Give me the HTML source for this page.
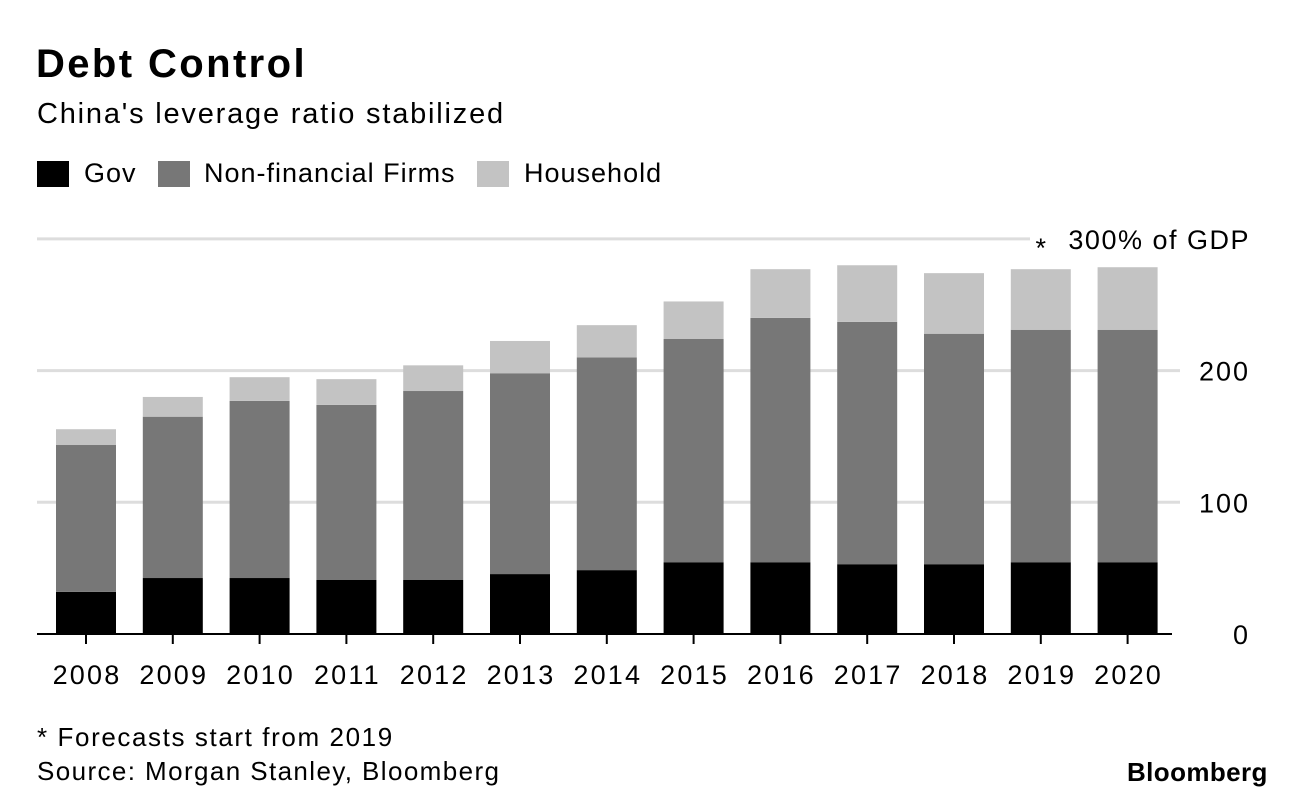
<!DOCTYPE html>
<html><head><meta charset="utf-8"><style>
body{margin:0;background:#fff;font-family:"Liberation Sans",Arial,sans-serif;}
#wrap{position:relative;width:1296px;height:802px;overflow:hidden;}
.t{position:absolute;white-space:nowrap;color:#000;}
</style></head><body>
<div id="wrap">
<div class="t" style="left:36px;top:42px;font-size:40px;font-weight:bold;letter-spacing:2.4px;">Debt Control</div>
<div class="t" style="left:37px;top:98px;font-size:29px;letter-spacing:1.8px;">China's leverage ratio stabilized</div>
<div>
<div class="t" style="left:37px;top:161px;width:32px;height:26px;background:#000;"></div>
<div class="t" style="left:84px;top:158px;font-size:27px;letter-spacing:1px;">Gov</div>
<div class="t" style="left:158px;top:161px;width:32px;height:26px;background:#777;"></div>
<div class="t" style="left:204px;top:158px;font-size:27px;letter-spacing:1px;">Non-financial Firms</div>
<div class="t" style="left:477px;top:161px;width:32px;height:26px;background:#c3c3c3;"></div>
<div class="t" style="left:524px;top:158px;font-size:27px;letter-spacing:1px;">Household</div>
</div>
<svg id="chart" width="1296" height="802" style="position:absolute;left:0;top:0;"></svg>
<div class="t" style="left:37px;top:722px;font-size:26px;letter-spacing:1.6px;">* Forecasts start from 2019</div>
<div class="t" style="left:37px;top:756px;font-size:26px;letter-spacing:1.4px;">Source: Morgan Stanley, Bloomberg</div>
<div class="t" style="left:1127px;top:757px;font-size:26px;font-weight:bold;letter-spacing:0.4px;">Bloomberg</div>
</div>
<script>
const years=["2008","2009","2010","2011","2012","2013","2014","2015","2016","2017","2018","2019","2020"];
const gov=[32,42.5,42.5,41,41,45.5,48.5,54.5,54.5,53,53,54.5,54.5];
const firms=[111.5,122.5,134.5,133,143.5,152.5,161.5,169.5,185.5,184,175,176.5,176.5];
const household=[12,15,18,19.5,19.5,24.5,24.5,28.5,37,43,46,46,47.5];
const ticks=[0,100,200,300];
const tickLabels=["0","100","200","300% of GDP"];
const NS="http://www.w3.org/2000/svg";
const svg=document.getElementById('chart');
const y0=634, pxPer=1.317;
const y=v=>y0-v*pxPer;
const x=i=>86+i*86.8;
const bw=60;
function el(tag,attrs){const e=document.createElementNS(NS,tag);for(const k in attrs)e.setAttribute(k,attrs[k]);svg.appendChild(e);return e;}
ticks.forEach((t,i)=>{
  if(t>0){
    const g=el('line',{x1:37,x2:t===300?1030:1180,y1:y(t),y2:y(t),stroke:'#ddd','stroke-width':3});
    
    
  }
  const tx=el('text',{x:1250,y:y(t)+10,'text-anchor':'end','font-size':27,'letter-spacing':t===300?1.5:2,'font-family':'Liberation Sans, sans-serif'});
  tx.textContent=tickLabels[i];
  
  
});
years.forEach((yr,i)=>{
  const segs=[[gov[i],'#000','gov'],[firms[i],'#777','firms'],[household[i],'#c3c3c3','household']];
  let base=0;
  segs.forEach(s=>{
    const r=el('rect',{x:x(i)-bw/2,y:y(base+s[0]),width:bw,height:s[0]*pxPer,fill:s[1]});
    
    
    base+=s[0];
  });
  const tk=el('line',{x1:x(i),x2:x(i),y1:y0,y2:y0+10,stroke:'#000','stroke-width':2});
  
  
  const lt=el('text',{x:x(i)+1,y:684,'text-anchor':'middle','font-size':27,'letter-spacing':2.2,'font-family':'Liberation Sans, sans-serif'});
  lt.textContent=yr;
  
  
});
const ax=el('line',{x1:37,x2:1172,y1:y0,y2:y0,stroke:'#000','stroke-width':2});


const st=el('text',{x:x(11),y:257,'text-anchor':'middle','font-size':27,'font-family':'Liberation Sans, sans-serif'});
st.textContent='*';


</script>
</body></html>
